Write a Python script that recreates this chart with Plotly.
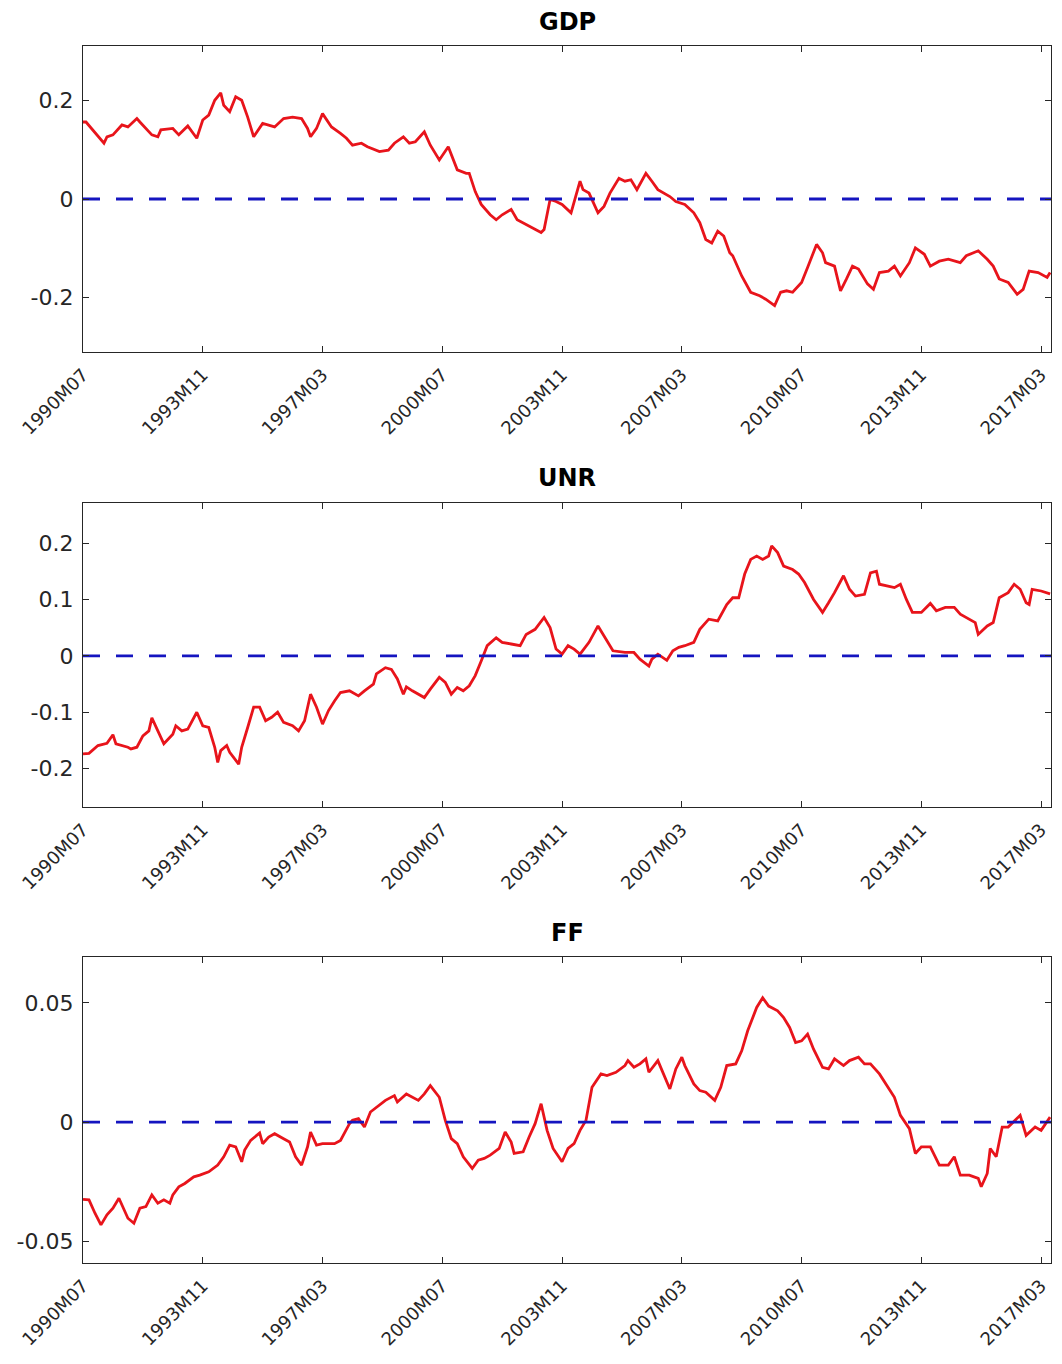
import plotly.graph_objects as go

# ---- data (month offsets from 1990M07) ----
start_label = "1990M07"
tick_labels = ["1990M07", "1993M11", "1997M03", "2000M07", "2003M11",
               "2007M03", "2010M07", "2013M11", "2017M03"]

gdp_month = [0, 1, 7, 8, 10, 13, 15, 18, 19, 23, 25, 26, 30, 32, 35, 38, 40, 42, 44, 46,
             47, 49, 51, 53, 55, 57, 60, 62, 64, 67, 70, 73, 75, 76, 78, 80, 83, 86, 88, 90,
             93, 95, 99, 102, 104, 107, 109, 111, 114, 116, 119, 122, 123, 125, 128, 129, 131,
             133, 136, 138, 140, 143, 145, 149, 153, 154, 156, 158, 160, 163, 166, 167, 169,
             172, 174, 176, 177, 179, 181, 183, 185, 188, 190, 192, 196, 198, 201, 204, 206,
             208, 210, 212, 214, 216, 217, 220, 223, 226, 228, 231, 233, 235, 237, 240, 242,
             244, 245, 247, 248, 251, 253, 255, 257, 259, 262, 264, 266, 269, 271, 273, 276,
             278, 281, 283, 286, 289, 293, 295, 299, 302, 304, 306, 309, 312, 314, 316, 319,
             322, 323]
gdp_value = [0.156, 0.156, 0.113, 0.126, 0.130, 0.150, 0.146, 0.163, 0.156, 0.130, 0.126,
             0.140, 0.143, 0.130, 0.148, 0.123, 0.160, 0.170, 0.200, 0.215, 0.190, 0.177,
             0.207, 0.200, 0.166, 0.126, 0.153, 0.150, 0.146, 0.163, 0.166, 0.163, 0.143,
             0.126, 0.143, 0.173, 0.146, 0.133, 0.123, 0.109, 0.113, 0.106, 0.096, 0.099,
             0.113, 0.126, 0.113, 0.116, 0.136, 0.109, 0.079, 0.106, 0.089, 0.059, 0.052,
             0.052, 0.015, -0.011, -0.032, -0.042, -0.032, -0.021, -0.042, -0.055, -0.068,
             -0.062, -0.001, -0.005, -0.011, -0.028, 0.036, 0.019, 0.012, -0.028, -0.015,
             0.012, 0.022, 0.042, 0.036, 0.039, 0.019, 0.052, 0.036, 0.019, 0.005, -0.005,
             -0.011, -0.028, -0.048, -0.082, -0.089, -0.065, -0.075, -0.109, -0.115, -0.156,
             -0.189, -0.196, -0.203, -0.216, -0.189, -0.186, -0.189, -0.169, -0.139, -0.109,
             -0.092, -0.109, -0.129, -0.136, -0.186, -0.162, -0.136, -0.142, -0.172, -0.183,
             -0.149, -0.146, -0.136, -0.156, -0.129, -0.099, -0.112, -0.136, -0.126, -0.122,
             -0.129, -0.115, -0.105, -0.122, -0.136, -0.162, -0.169, -0.193, -0.183, -0.146,
             -0.149, -0.159, -0.149]

unr_month = [0, 2, 5, 8, 10, 11, 15, 16, 18, 20, 22, 23, 25, 27, 30, 31, 33, 35, 38, 40,
             42, 44, 45, 46, 48, 49, 52, 53, 55, 57, 59, 61, 63, 65, 67, 70, 72, 74, 76, 78,
             80, 82, 84, 86, 89, 92, 94, 97, 98, 101, 103, 105, 107, 108, 110, 114, 116, 119,
             121, 123, 125, 127, 129, 131, 133, 135, 138, 140, 143, 146, 148, 151, 154, 156,
             158, 160, 162, 164, 166, 169, 172, 174, 177, 181, 184, 186, 189, 190, 192, 195,
             197, 199, 201, 204, 206, 209, 212, 215, 217, 219, 221, 223, 225, 227, 229, 230,
             232, 234, 237, 239, 241, 244, 247, 249, 251, 254, 256, 258, 261, 263, 265, 266,
             269, 271, 273, 275, 277, 280, 283, 285, 288, 291, 293, 295, 298, 299, 302, 304,
             306, 309, 311, 313, 315, 316, 317, 320, 322, 323]
unr_value = [-0.174, -0.173, -0.159, -0.155, -0.140, -0.156, -0.162, -0.165, -0.162, -0.142,
             -0.133, -0.110, -0.133, -0.156, -0.139, -0.124, -0.133, -0.130, -0.100, -0.124,
             -0.127, -0.162, -0.189, -0.168, -0.159, -0.171, -0.192, -0.162, -0.127, -0.091,
             -0.091, -0.115, -0.109, -0.100, -0.118, -0.124, -0.133, -0.115, -0.068, -0.091,
             -0.121, -0.097, -0.080, -0.065, -0.062, -0.071, -0.062, -0.050, -0.032, -0.021,
             -0.024, -0.041, -0.068, -0.055, -0.062, -0.074, -0.059, -0.038, -0.047, -0.068,
             -0.056, -0.062, -0.053, -0.035, -0.009, 0.018, 0.032, 0.024, 0.021, 0.018, 0.038,
             0.047, 0.068, 0.050, 0.012, 0.003, 0.018, 0.012, 0.003, 0.024, 0.053, 0.035,
             0.009, 0.006, 0.006, -0.006, -0.018, -0.006, 0.003, -0.008, 0.009, 0.015, 0.018,
             0.024, 0.047, 0.065, 0.062, 0.091, 0.103, 0.103, 0.145, 0.171, 0.177, 0.171,
             0.177, 0.195, 0.183, 0.159, 0.153, 0.145, 0.130, 0.100, 0.077, 0.094, 0.112,
             0.142, 0.118, 0.106, 0.109, 0.147, 0.150, 0.127, 0.124, 0.121, 0.127, 0.100,
             0.077, 0.077, 0.093, 0.080, 0.086, 0.086, 0.074, 0.068, 0.059, 0.038, 0.053,
             0.059, 0.103, 0.112, 0.127, 0.118, 0.094, 0.091, 0.118, 0.115, 0.112, 0.110]

ff_month = [0, 2, 4, 6, 8, 10, 12, 14, 15, 17, 19, 21, 23, 25, 27, 29, 30, 32, 34, 37, 39,
            42, 45, 47, 49, 51, 53, 54, 56, 59, 60, 62, 64, 67, 69, 71, 73, 75, 76, 78, 80,
            84, 86, 89, 90, 92, 94, 96, 98, 101, 104, 105, 108, 110, 112, 114, 116, 119, 121,
            123, 125, 127, 130, 132, 134, 136, 139, 141, 143, 144, 147, 149, 151, 153, 155,
            157, 160, 162, 164, 166, 168, 170, 173, 175, 178, 181, 182, 184, 186, 188, 189,
            192, 193, 196, 198, 200, 201, 204, 206, 208, 211, 213, 215, 218, 220, 222, 225,
            227, 229, 232, 234, 236, 238, 240, 242, 244, 247, 249, 251, 254, 256, 259, 261,
            263, 266, 269, 271, 273, 276, 278, 280, 283, 286, 289, 291, 293, 296, 299, 300,
            302, 303, 305, 307, 309, 313, 315, 318, 320, 322, 323]
ff_value = [-0.0325, -0.0327, -0.0383, -0.0432, -0.0390, -0.0362, -0.0320, -0.0376, -0.0404,
            -0.0425, -0.0362, -0.0355, -0.0306, -0.0341, -0.0327, -0.0341, -0.0306, -0.0272,
            -0.0258, -0.0230, -0.0223, -0.0209, -0.0181, -0.0146, -0.0097, -0.0104, -0.0167,
            -0.0118, -0.0077, -0.0046, -0.0091, -0.0063, -0.0049, -0.0070, -0.0084, -0.0146,
            -0.0181, -0.0104, -0.0042, -0.0097, -0.0091, -0.0091, -0.0077, -0.0007, 0.0007,
            0.0014, -0.0021, 0.0042, 0.0063, 0.0091, 0.0111, 0.0084, 0.0118, 0.0104, 0.0091,
            0.0118, 0.0153, 0.0104, 0.0007, -0.0070, -0.0091, -0.0146, -0.0195, -0.0160,
            -0.0153, -0.0139, -0.0111, -0.0042, -0.0084, -0.0132, -0.0125, -0.0063, -0.0007,
            0.0077, -0.0035, -0.0111, -0.0167, -0.0111, -0.0091, -0.0035, 0.0007, 0.0146,
            0.0202, 0.0195, 0.0209, 0.0237, 0.0258, 0.0230, 0.0244, 0.0265, 0.0209, 0.0258,
            0.0230, 0.0139, 0.0223, 0.0272, 0.0237, 0.0160, 0.0132, 0.0125, 0.0091, 0.0146,
            0.0237, 0.0244, 0.0299, 0.0383, 0.0481, 0.0522, 0.0487, 0.0467, 0.0439, 0.0397,
            0.0334, 0.0341, 0.0369, 0.0306, 0.0230, 0.0223, 0.0265, 0.0237, 0.0258, 0.0272,
            0.0244, 0.0244, 0.0202, 0.0146, 0.0104, 0.0028, -0.0028, -0.0132, -0.0104,
            -0.0104, -0.0181, -0.0181, -0.0146, -0.0223, -0.0223, -0.0237, -0.0272, -0.0216,
            -0.0111, -0.0146, -0.0021, -0.0021, 0.0028, -0.0056, -0.0021, -0.0035, 0.0000,
            0.0021]

titles = ["GDP", "UNR", "FF"]
y_ranges = [[-0.31, 0.31], [-0.268, 0.271], [-0.0592, 0.0693]]
y_ticks = [[-0.2, 0, 0.2], [-0.2, -0.1, 0, 0.1, 0.2], [-0.05, 0, 0.05]]
y_ticktext = [["-0.2", "0", "0.2"], ["-0.2", "-0.1", "0", "0.1", "0.2"], ["-0.05", "0", "0.05"]]


def month_index(label):
    y0, m0 = int(start_label[:4]), int(start_label[5:])
    y, m = int(label[:4]), int(label[5:])
    return (y - y0) * 12 + (m - m0)


tick_vals = [month_index(t) for t in tick_labels]
last_month = 323

# ---- figure (page body has an 8px margin, so the figure is 16px smaller) ----
OFF = 8
W, H = 1062 - 2 * OFF, 1364 - 2 * OFF
x_left_px, x_right_px = 83 - OFF, 1051 - OFF
x_dom = [x_left_px / W, x_right_px / W]
panels_px = [(46 - OFF, 352 - OFF), (503 - OFF, 807 - OFF), (957 - OFF, 1263 - OFF)]
title_y_px = [22 - OFF, 478 - OFF, 933 - OFF]

series = [(gdp_month, gdp_value), (unr_month, unr_value), (ff_month, ff_value)]

fig = go.Figure()
axis_color = "#262626"
tick_font = "DejaVu Sans, Liberation Sans, Arial, sans-serif"

for i, (mx, vals) in enumerate(series):
    xa = "x" if i == 0 else f"x{i+1}"
    ya = "y" if i == 0 else f"y{i+1}"
    fig.add_trace(go.Scatter(x=mx, y=vals, mode="lines", xaxis=xa, yaxis=ya,
                             line=dict(color="#e8141b", width=2.8), showlegend=False))
    fig.add_trace(go.Scatter(x=[0, last_month + 0.3], y=[0, 0], mode="lines", xaxis=xa, yaxis=ya,
                             line=dict(color="#1515c0", width=2.8, dash="17px,16px"),
                             showlegend=False))
    top, bot = panels_px[i]
    xk = "xaxis" if i == 0 else f"xaxis{i+1}"
    yk = "yaxis" if i == 0 else f"yaxis{i+1}"
    fig.layout[xk] = dict(domain=x_dom, anchor=ya, range=[0, last_month + 0.3],
                          tickvals=tick_vals, ticktext=tick_labels, tickangle=-45,
                          automargin=False, ticklabelstandoff=4,
                          showline=True, mirror="ticks", linecolor=axis_color, linewidth=1.2,
                          ticks="inside", ticklen=6, tickcolor=axis_color, tickwidth=1.2,
                          showgrid=False, zeroline=False,
                          tickfont=dict(family=tick_font, size=18, color=axis_color))
    fig.layout[yk] = dict(domain=[1 - bot / H, 1 - top / H], anchor=xa, range=y_ranges[i],
                          tickvals=y_ticks[i], ticktext=y_ticktext[i],
                          automargin=False, ticklabelstandoff=4,
                          showline=True, mirror="ticks", linecolor=axis_color, linewidth=1.2,
                          ticks="inside", ticklen=6, tickcolor=axis_color, tickwidth=1.2,
                          showgrid=False, zeroline=False,
                          tickfont=dict(family=tick_font, size=22, color=axis_color))
    fig.add_annotation(text=f"<b>{titles[i]}</b>", xref="paper", yref="paper",
                       x=(x_dom[0] + x_dom[1]) / 2, y=1 - title_y_px[i] / H,
                       xanchor="center", yanchor="middle", showarrow=False,
                       font=dict(family=tick_font, size=24, color="#000000"))

fig.update_layout(width=W, height=H, margin=dict(l=0, r=0, t=0, b=0, autoexpand=False),
                  paper_bgcolor="white", plot_bgcolor="white")

fig.write_html("out.html")
